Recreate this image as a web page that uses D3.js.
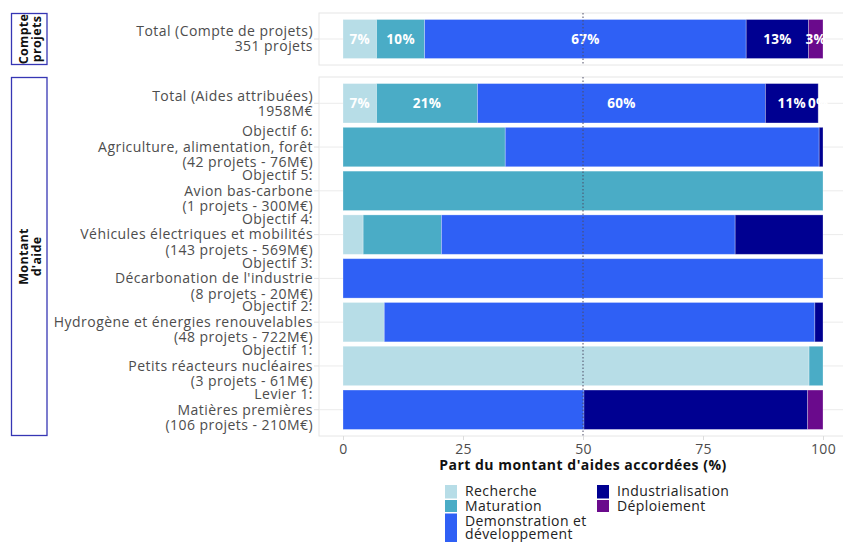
<!DOCTYPE html>
<html><head><meta charset="utf-8">
<script src="https://cdn.jsdelivr.net/npm/d3@7"></script>
<style>
body{margin:0;background:#fff;}
svg{display:block;font-family:"Open Sans", "Noto Sans", sans-serif;}
</style></head>
<body><svg id="c" width="843" height="542"></svg>
<script>
// ---- data ----
const rowLabels = [
  ["Total (Compte de projets)","351 projets"],
  ["Total (Aides attribuées)","1958M€"],
  ["Objectif 6:","Agriculture, alimentation, forêt","(42 projets - 76M€)"],
  ["Objectif 5:","Avion bas-carbone","(1 projets - 300M€)"],
  ["Objectif 4:","Véhicules électriques et mobilités","(143 projets - 569M€)"],
  ["Objectif 3:","Décarbonation de l'industrie","(8 projets - 20M€)"],
  ["Objectif 2:","Hydrogène et énergies renouvelables","(48 projets - 722M€)"],
  ["Objectif 1:","Petits réacteurs nucléaires","(3 projets - 61M€)"],
  ["Levier 1:","Matières premières","(106 projets - 210M€)"]
];
const rowPanel = ["Compte projets","Montant d'aide","Montant d'aide","Montant d'aide","Montant d'aide","Montant d'aide","Montant d'aide","Montant d'aide","Montant d'aide"];
const showLabels = [true,true,false,false,false,false,false,false,false];
const panels = [["Compte","projets"],["Montant","d'aide"]];
const seriesNames = ["Recherche","Maturation","Demonstration et développement","Industrialisation","Déploiement"];
const seriesColors = ["#b7dde7","#4aacc6","#2f60f5","#000091","#6a0a8c"];
const recherche        = [7, 7, 0, 0, 4.2, 0, 8.6, 97.1, 0];
const maturation       = [10, 21, 33.8, 100, 16.3, 0, 0, 2.9, 0];
const demonstration    = [67, 60, 65.4, 0, 61.2, 100, 89.7, 0, 50.2];
const industrialisation= [13, 11, 0.8, 0, 18.3, 0, 1.7, 0, 46.6];
const deploiement      = [3, 0, 0, 0, 0, 0, 0, 0, 3.2];
const xTicks = [0,25,50,75,100];
const xTitle = "Part du montant d'aides accordées (%)";
const refLine = 50;

// ---- build ----
const seriesVals = [recherche, maturation, demonstration, industrialisation, deploiement];
const svg = d3.select("#c");
const x = d3.scaleLinear().domain([-5,105]).range([319,847]);
const panelBoxes = [{top:13,bottom:65},{top:77,bottom:436}];
const color = d3.scaleOrdinal().domain(seriesNames).range(seriesColors);
const panelKeys = rowPanel.filter((v,k,a)=>a.indexOf(v)===k);

const grey = "#4d4d4d";
panels.forEach((p,pi)=>{
  const idx = rowPanel.map((r,i)=>i).filter(i=>rowPanel[i]===panelKeys[pi]);
  const box = panelBoxes[pi];
  const y = d3.scaleBand().domain(idx).range([box.top, box.bottom]).paddingInner(0.1).paddingOuter(0.15);
  const g = svg.append("g");
  g.append("rect").attr("x",x(-5)).attr("y",box.top).attr("width",x(105)-x(-5)).attr("height",box.bottom-box.top)
    .attr("fill","#fff").attr("stroke","#e6e6e6").attr("stroke-width",1);
  idx.forEach(i=>{
    const cy = y(i)+y.bandwidth()/2;
    g.append("line").attr("x1",x(-5)).attr("x2",x(105)).attr("y1",cy).attr("y2",cy).attr("stroke","#ebebeb").attr("stroke-width",1);
    g.append("line").attr("x1",x(-5)-5).attr("x2",x(-5)).attr("y1",cy).attr("y2",cy).attr("stroke","#e0e0e0").attr("stroke-width",1);
    const lines = rowLabels[i];
    const lh = lines.length===3 ? 15.5 : 15;
    const t = g.append("text").attr("text-anchor","end").attr("fill",grey).attr("font-size",14)
      .attr("letter-spacing",0.45);
    lines.forEach((s,k)=>{
      t.append("tspan").attr("x",313).attr("y",cy + (k-(lines.length-1)/2)*lh + 4.8).text(s);
    });
  });
  idx.forEach(i=>{
    let acc = 0;
    seriesVals.forEach((vals,s)=>{
      const v = vals[i];
      const x0 = acc; acc += v;
      if(v<=0) return;
      g.append("rect").attr("x",x(x0)).attr("y",y(i)).attr("width",x(acc)-x(x0)).attr("height",y.bandwidth())
        .attr("fill",seriesColors[s]).attr("stroke","#ffffff").attr("stroke-opacity",0.35).attr("stroke-width",0.8);
    });
  });
  idx.filter(i=>showLabels[i]).forEach(i=>{
    let acc = 0;
    seriesVals.forEach((vals,s)=>{
      const v = vals[i];
      const mid = acc + v/2; acc += v;
      g.append("text").attr("x",x(mid)).attr("y",y(i)+y.bandwidth()/2+5).attr("text-anchor","middle")
        .attr("fill","#fff").attr("font-weight","bold").attr("font-size",13.5).attr("letter-spacing",0.3)
        .text(Math.round(v)+"%");
    });
  });
  g.append("line").attr("x1",x(refLine)).attr("x2",x(refLine)).attr("y1",box.top).attr("y2",box.bottom)
    .attr("stroke","#4d4d66").attr("stroke-width",1).attr("stroke-dasharray","1.5,2");
  g.append("rect").attr("x",11.5).attr("y",box.top+0.5).attr("width",35.5).attr("height",box.bottom-box.top-1)
    .attr("fill","#fff").attr("stroke","#3636b4").attr("stroke-width",1.3);
  const cyS = (box.top+box.bottom)/2;
  const st = g.append("text").attr("transform",`translate(30,${cyS}) rotate(-90)`).attr("text-anchor","middle")
    .attr("font-weight","bold").attr("font-size",12.5).attr("fill","#111").attr("letter-spacing",0.3);
  p.forEach((s,k)=>{ st.append("tspan").attr("x",0).attr("y",(k-0.5)*13.5+4.5).text(s); });
});

const axisG = svg.append("g").attr("transform","translate(0,436)")
  .call(d3.axisBottom(x).tickValues(xTicks).tickSize(4).tickPadding(4).tickFormat(d3.format("d")));
axisG.select(".domain").remove();
axisG.selectAll(".tick line").attr("stroke","#dcdcdc");
axisG.selectAll(".tick text").attr("fill",grey).attr("font-size",14).attr("letter-spacing",0.3)
  .attr("font-family","'Open Sans', sans-serif");
svg.append("text").attr("x",x(50)).attr("y",470).attr("text-anchor","middle").attr("font-weight","bold")
  .attr("font-size",14).attr("letter-spacing",0.5).attr("fill","#111").text(xTitle);

const legend = svg.append("g");
const legPos = [
  {kx:445, ky:485, kh:13.5, tx:465, lines:[496]},
  {kx:445, ky:500, kh:12, tx:465, lines:[511]},
  {kx:445, ky:513.5, kh:40, tx:465, lines:[526,539]},
  {kx:597, ky:485, kh:13.5, tx:617, lines:[496]},
  {kx:597, ky:500, kh:12, tx:617, lines:[511]}
];
const legLines = [["Recherche"],["Maturation"],["Demonstration et","développement"],["Industrialisation"],["Déploiement"]];
seriesNames.forEach((n,i)=>{
  const p = legPos[i];
  legend.append("rect").attr("x",p.kx).attr("y",p.ky).attr("width",12).attr("height",p.kh).attr("fill",color(n));
  const t = legend.append("text").attr("font-size",14).attr("letter-spacing",0.4).attr("fill","#222");
  legLines[i].forEach((s,k)=>t.append("tspan").attr("x",p.tx).attr("y",p.lines[k]).text(s));
});
</script></body></html>
